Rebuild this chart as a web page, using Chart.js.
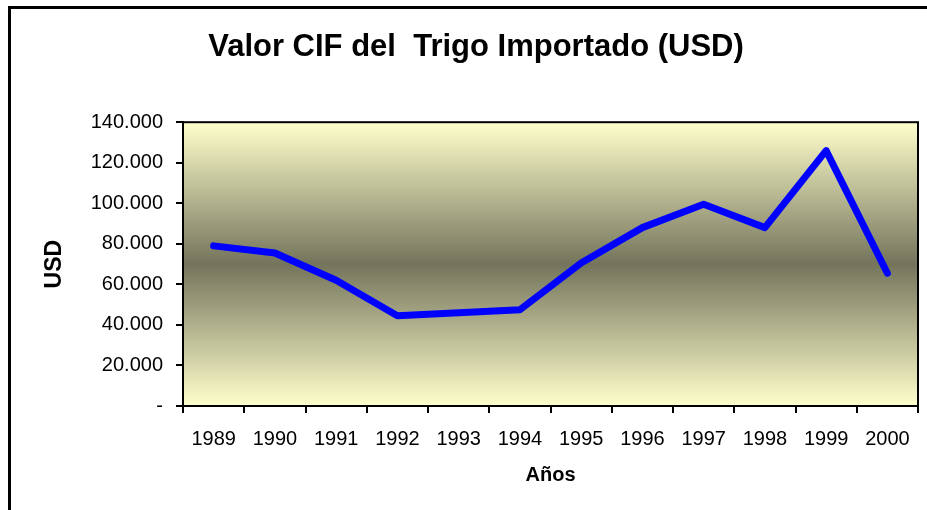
<!DOCTYPE html>
<html>
<head>
<meta charset="utf-8">
<script src="https://cdn.jsdelivr.net/npm/chart.js@4"></script>
<style>
  html, body { margin: 0; padding: 0; background: #ffffff; }
  #wrap { width: 927px; height: 510px; }
</style>
</head>
<body>
<div id="wrap"><canvas id="c" width="927" height="510"></canvas></div>
<script>
const titleText = 'Valor CIF del  Trigo Importado (USD)';
const years = ['1989','1990','1991','1992','1993','1994','1995','1996','1997','1998','1999','2000'];
const cifValues = [79000, 75500, 62000, 44500, 46000, 47500, 70500, 88000, 99500, 88000, 126000, 65500];
const yMin = 0;
const yMax = 140000;
const yStep = 20000;
const xTitle = 'Años';
const yTitle = 'USD';

const FONT = "'Liberation Sans', Arial, sans-serif";

function fmtThousands(v) {
  if (v === 0) return '-';
  const s = Math.round(v).toString();
  return s.replace(/\B(?=(\d{3})+(?!\d))/g, '.') ;
}

const decorPlugin = {
  id: 'decor',
  beforeDraw(chart) {
    const ctx = chart.ctx;
    const a = chart.chartArea;
    ctx.save();
    ctx.fillStyle = '#ffffff';
    ctx.fillRect(0, 0, chart.width, chart.height);
    // outer frame (left and top only visible)
    ctx.strokeStyle = '#000000';
    ctx.lineWidth = 3;
    ctx.beginPath();
    ctx.moveTo(9.5, chart.height);
    ctx.lineTo(9.5, 7.5);
    ctx.lineTo(chart.width, 7.5);
    ctx.stroke();
    // plot area gradient
    const g = ctx.createLinearGradient(0, a.top, 0, a.bottom);
    g.addColorStop(0, '#FFFFCC');
    g.addColorStop(0.5, '#74745C');
    g.addColorStop(1, '#FFFFCC');
    ctx.fillStyle = g;
    ctx.fillRect(a.left, a.top, a.right - a.left, a.bottom - a.top);
    ctx.restore();
  },
  afterDraw(chart) {
    const ctx = chart.ctx;
    const a = chart.chartArea;
    ctx.save();
    ctx.strokeStyle = '#000000';
    ctx.lineWidth = 2;
    ctx.strokeRect(a.left, a.top, a.right - a.left, a.bottom - a.top);
    ctx.restore();
  }
};

new Chart(document.getElementById('c'), {
  type: 'line',
  data: {
    labels: years,
    datasets: [{
      data: cifValues,
      borderColor: '#0000FF',
      borderWidth: 7,
      pointRadius: 0,
      pointHoverRadius: 0,
      tension: 0,
      borderCapStyle: 'round',
      borderJoinStyle: 'round',
      fill: false
    }]
  },
  options: {
    responsive: false,
    animation: false,
    events: [],
    layout: { padding: { left: 34, right: 9, top: 0, bottom: 0 } },
    plugins: {
      legend: { display: false },
      tooltip: { enabled: false },
      title: {
        display: true,
        text: titleText,
        color: '#000000',
        font: { family: FONT, size: 31, weight: 'bold' },
        padding: { top: 29, bottom: 56 }
      }
    },
    scales: {
      x: {
        offset: true,
        grid: {
          offset: true,
          drawOnChartArea: false,
          drawTicks: true,
          tickLength: 7,
          color: '#000000',
          lineWidth: 2
        },
        border: { display: true, color: '#000000', width: 2 },
        ticks: {
          color: '#000000',
          font: { family: FONT, size: 20 },
          padding: 14,
          maxRotation: 0,
          autoSkip: false
        },
        title: {
          display: true,
          text: xTitle,
          color: '#000000',
          font: { family: FONT, size: 20, weight: 'bold' },
          padding: { top: 4, bottom: 23 }
        },
        afterFit(scale) { scale.height = 104; }
      },
      y: {
        min: yMin,
        max: yMax,
        grid: {
          drawOnChartArea: false,
          drawTicks: true,
          tickLength: 7,
          color: '#000000',
          lineWidth: 2
        },
        border: { display: true, color: '#000000', width: 2 },
        ticks: {
          stepSize: yStep,
          color: '#000000',
          font: { family: FONT, size: 20 },
          padding: 13,
          callback: (v) => fmtThousands(v)
        },
        title: {
          display: true,
          text: yTitle,
          color: '#000000',
          font: { family: FONT, size: 23, weight: 'bold' },
          padding: { top: 7, bottom: 0 }
        },
        afterFit(scale) { scale.width = 149; }
      }
    }
  },
  plugins: [decorPlugin]
});
</script>
</body>
</html>
